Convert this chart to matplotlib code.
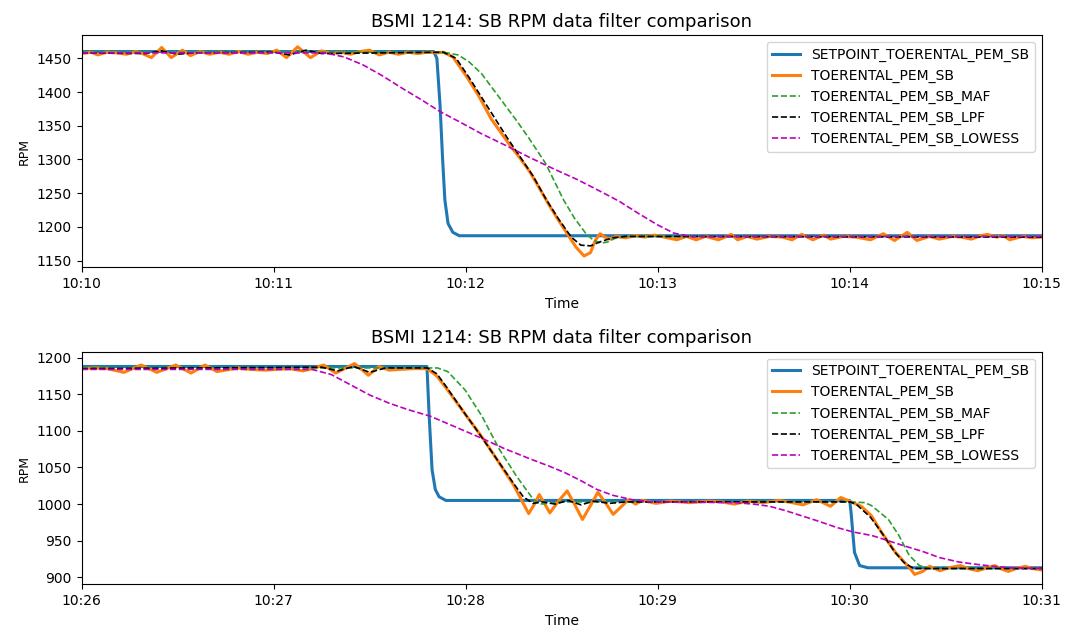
import numpy as np
import pandas as pd
import matplotlib
matplotlib.use('Agg')
import matplotlib.pyplot as plt
import matplotlib.dates as mdates

# ---- panel 1 : 10:10 - 10:15 (time in seconds after start) ----
p1_start = '2021-01-01 10:10:00'

p1_set_t = [0, 110, 111, 112, 112.8, 113.5, 114.5, 116, 118, 300]
p1_set_v = [1460, 1460, 1450, 1380, 1300, 1240, 1205, 1192, 1187, 1187]

p1_raw_t = [0, 3, 5, 8, 11, 14, 17, 19, 21.8, 25, 28, 31.5, 34, 37, 40, 43, 46, 49, 52, 55, 58,
            61, 64, 67.5, 71.5, 75, 78, 81, 84, 87, 90, 93, 96, 99, 102, 105, 108, 111, 113,
            116, 120, 124, 128, 131, 134, 137, 140, 143, 146, 149, 152, 154.5, 157, 159, 160.5,
            162, 163.5, 165, 167, 170, 173, 176, 179, 182, 186, 189, 192, 195, 199, 203, 205,
            208, 211, 215, 219, 222, 225, 228.5, 232, 234, 238, 242, 246.5, 250.5, 254, 258,
            261, 265, 268, 272, 275, 278, 281, 283, 286, 288, 290, 294, 297, 300]
p1_raw_v = [1457, 1459, 1455, 1459, 1458, 1456, 1460, 1457, 1451, 1466, 1451, 1462, 1454, 1460,
            1456, 1459, 1456, 1460, 1456, 1459, 1457, 1462, 1451, 1467, 1451, 1461, 1457, 1459,
            1456, 1460, 1462, 1455, 1459, 1456, 1459, 1457, 1459, 1458, 1459,
            1452, 1425, 1395, 1360, 1340, 1320, 1302, 1282, 1258, 1233, 1210, 1188, 1170, 1157,
            1162, 1180, 1190, 1185, 1182, 1186, 1184, 1187, 1185, 1188, 1185, 1181, 1186, 1181,
            1186, 1181, 1189, 1181, 1186, 1182, 1186, 1185, 1181, 1189, 1181, 1188, 1182, 1186,
            1185, 1181, 1190, 1180, 1192, 1180, 1186, 1182, 1186, 1185, 1182, 1187, 1189, 1185,
            1187, 1181, 1186, 1184, 1185]

p1_maf_t = [0, 113, 117.6, 121, 125, 130.5, 136, 140, 145, 150.6, 154, 157.6, 160, 162.4, 164.5,
            166.6, 170, 300]
p1_maf_v = [1459, 1459, 1455, 1445, 1427, 1392, 1357, 1330, 1294, 1240, 1213, 1190, 1180, 1176,
            1178, 1183, 1186, 1186]

p1_lpf_t = [0, 20, 25, 30, 35, 60, 65, 70, 75, 113, 117, 121, 125, 129, 133, 137, 141, 145, 149,
            153, 156, 159, 162, 166, 170, 300]
p1_lpf_v = [1458, 1457, 1461, 1456, 1458, 1459, 1455, 1462, 1457, 1459, 1450, 1422, 1392, 1362,
            1332, 1304, 1276, 1242, 1212, 1185, 1173, 1172, 1178, 1184, 1186, 1185]

p1_low_t = [0, 76, 82, 88, 94, 100, 106, 112, 118, 125, 132, 140, 148, 155, 162, 168, 174, 180,
            185, 190, 300]
p1_low_v = [1458, 1458, 1452, 1440, 1424, 1406, 1389, 1371, 1356, 1338, 1322, 1303, 1285, 1270,
            1253, 1238, 1220, 1203, 1191, 1186, 1186]

# ---- panel 2 : 10:26 - 10:31 ----
p2_start = '2021-01-01 10:26:00'

p2_set_t = [0, 107.9, 108.6, 109.5, 110.5, 111.7, 113.8, 240, 240.4, 241.5, 243.1, 245.7, 300]
p2_set_v = [1188, 1188, 1120, 1047, 1020, 1010, 1005, 1005, 990, 934, 916, 913, 913]

p2_raw_t = [0, 4, 8, 13.2, 18.6, 23.5, 29.4, 34.2, 38.5, 42.3, 48.7, 53, 57.4, 60.6, 65, 69.2,
            72, 75.6, 79.4, 85.3, 89.6, 92.9, 96.1, 99.3, 103.6, 108, 111, 114, 117, 120, 123,
            126, 129, 132, 135, 137.5, 139.7, 141.5, 143, 146.3, 149, 151.7, 154, 156.5, 159,
            161.3, 163.5, 166.1, 168.5, 170.9, 173.1, 175.2, 179.5, 184, 190, 196, 200, 204,
            208, 213, 218, 222, 225.4, 229.7, 234, 237.2, 240.5, 243.6, 246.8, 250, 254.3,
            258.7, 260.3, 262.8, 265, 268.2, 271, 274.6, 277, 280, 283, 285.3, 287, 289.6,
            292, 294.9, 297, 300]
p2_raw_v = [1185, 1186, 1185, 1180, 1190, 1180, 1190, 1179, 1190, 1181, 1186, 1184, 1183, 1184,
            1185, 1182, 1185, 1190, 1179, 1192, 1176, 1188, 1183, 1184, 1185, 1185, 1175, 1158,
            1140, 1122, 1104, 1086, 1066, 1046, 1026, 1005, 987, 1000, 1013, 988, 1004, 1018,
            1000, 979, 998, 1016, 1003, 986, 996, 1006, 1000, 1005, 1001, 1004, 1002, 1004,
            1003, 1000, 1004, 1002, 1005, 1002, 999, 1006, 997, 1009, 1003, 997, 984, 961, 934,
            913, 904, 908, 915, 909, 913, 916, 912, 909, 913, 916, 912, 908, 912, 915, 912, 910]

p2_maf_t = [0, 111.2, 114.4, 119.8, 125.1, 130.5, 135.9, 140.7, 143, 146, 150, 240, 244.7, 246.8,
            252.1, 255.4, 258.6, 261.8, 265, 300]
p2_maf_v = [1186, 1186, 1181, 1156, 1120, 1075, 1038, 1009, 1000, 1001, 1003, 1003, 1002, 998,
            979, 957, 930, 916, 912, 912]

p2_lpf_t = [0, 75, 80, 85, 90, 95, 108, 111, 114, 117, 120, 123, 126, 129, 132, 135, 138, 141,
            144, 148, 152, 156, 160, 165, 170, 240, 242, 244, 246.5, 250, 254, 257, 260, 300]
p2_lpf_v = [1185, 1187, 1182, 1188, 1180, 1186, 1186, 1178, 1160, 1141, 1122, 1104, 1085, 1066,
            1047, 1028, 1010, 1001, 1003, 1000, 1005, 999, 1004, 1001, 1003, 1003, 1000, 992, 982,
            961, 935, 920, 912, 912]

p2_low_t = [0, 72, 78, 84, 90, 96, 102, 109, 117, 125, 132, 140, 146, 151, 156, 161, 166, 172,
            178, 204, 210, 215, 220, 225, 230, 236, 241, 247, 252, 257, 263, 268, 274, 279, 285,
            290, 300]
p2_low_v = [1184, 1184, 1177, 1163, 1149, 1138, 1129, 1120, 1105, 1090, 1076, 1062, 1052, 1043,
            1032, 1020, 1012, 1006, 1003, 1002, 1000, 997, 991, 984, 977, 968, 962, 957, 950, 943,
            935, 927, 921, 918, 915, 913, 912]

labels = ['SETPOINT_TOERENTAL_PEM_SB', 'TOERENTAL_PEM_SB', 'TOERENTAL_PEM_SB_MAF',
          'TOERENTAL_PEM_SB_LPF', 'TOERENTAL_PEM_SB_LOWESS']


def to_time(start, secs):
    return pd.Timestamp(start) + pd.to_timedelta(secs, unit='s')


def draw(ax, start, series, ylim):
    (st, sv), (rt, rv), (mt, mv), (lt, lv), (wt, wv) = series
    ax.plot(to_time(start, st), sv, color='#1f77b4', lw=2.2, label=labels[0])
    ax.plot(to_time(start, rt), rv, color='#ff7f0e', lw=2.2, solid_joinstyle='round', label=labels[1])
    ax.plot(to_time(start, mt), mv, color='#2ca02c', lw=1.2, ls='--', label=labels[2])
    ax.plot(to_time(start, lt), lv, color='k', lw=1.2, ls='--', label=labels[3])
    ax.plot(to_time(start, wt), wv, color='m', lw=1.2, ls='--', label=labels[4])
    ax.set_xlim(to_time(start, 0), to_time(start, 300))
    ax.set_ylim(ylim)
    ax.xaxis.set_major_locator(mdates.MinuteLocator())
    ax.xaxis.set_major_formatter(mdates.DateFormatter('%H:%M'))
    ax.set_title('BSMI 1214: SB RPM data filter comparison', fontsize=13)
    ax.set_xlabel('Time', fontsize=10)
    ax.set_ylabel('RPM', fontsize=9)
    ax.tick_params(labelsize=10)
    ax.legend(loc='upper right', fontsize=10)


fig = plt.figure(figsize=(10.66, 6.33), dpi=100)
ax1 = fig.add_axes([0.0766, 0.5777, 0.9006, 0.367])
ax2 = fig.add_axes([0.0766, 0.0769, 0.9006, 0.3675])

draw(ax1, p1_start, [(p1_set_t, p1_set_v), (p1_raw_t, p1_raw_v), (p1_maf_t, p1_maf_v),
                     (p1_lpf_t, p1_lpf_v), (p1_low_t, p1_low_v)], (1140.2, 1484.5))
draw(ax2, p2_start, [(p2_set_t, p2_set_v), (p2_raw_t, p2_raw_v), (p2_maf_t, p2_maf_v),
                     (p2_lpf_t, p2_lpf_v), (p2_low_t, p2_low_v)], (890.4, 1208.2))

fig.savefig('out.png', dpi=100)
